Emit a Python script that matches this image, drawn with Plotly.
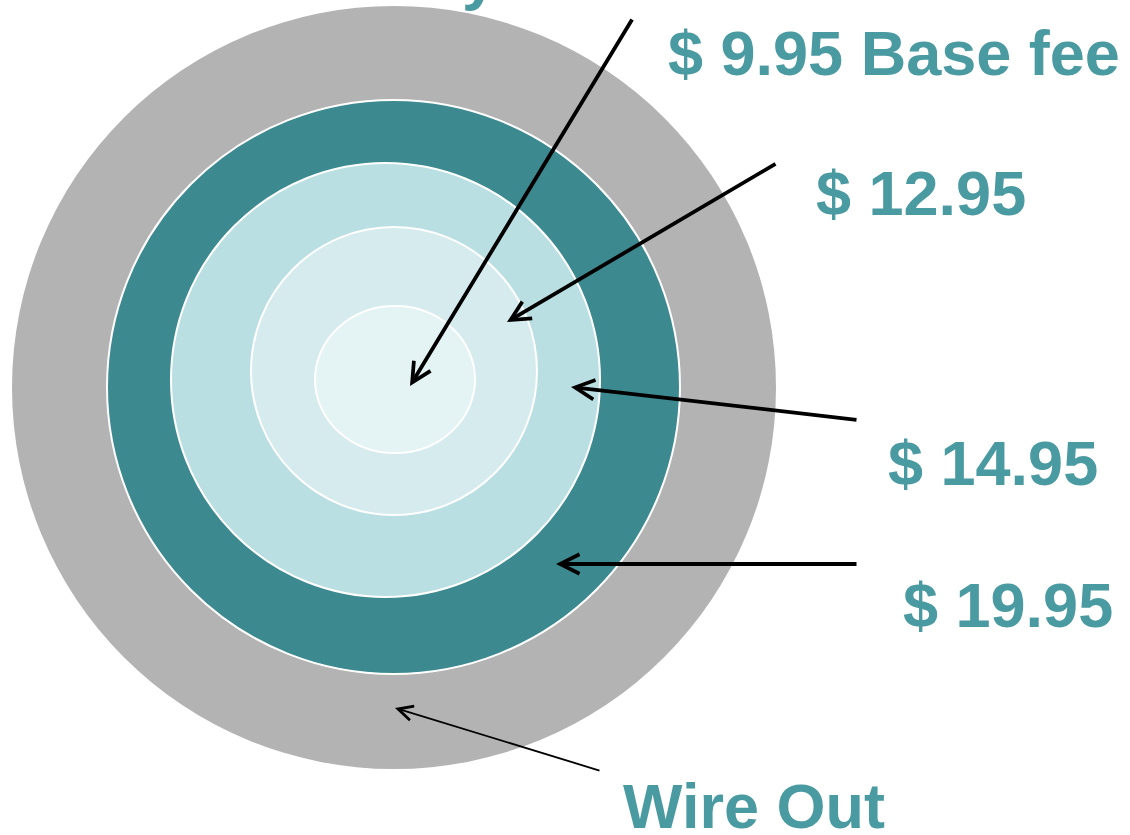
import plotly.graph_objects as go

# Ring data (outer -> inner): bounds in chart pixel units
ring_names = ["Wire Out", "$ 19.95", "$ 14.95", "$ 12.95", "$ 9.95 Base fee"]
ring_x0 = [12, 107, 171, 251, 315]
ring_x1 = [776, 680, 600, 537, 475]
ring_y0 = [6, 100, 163, 227, 306]
ring_y1 = [769, 674, 597, 515, 453]
ring_colors = ["#B3B3B3", "#3C8A90", "#BADFE2", "#D6EBEE", "#E4F3F4"]
ring_border = [0, 2, 2, 2, 2]

# Label texts and positions
label_texts = ["$ 9.95 Base fee", "$ 12.95", "$ 14.95", "$ 19.95", "Wire Out"]
label_x = [666, 814, 886, 901, 621]
label_y = [53, 193, 463, 605, 806]

# Arrows: tail -> head
arrow_tail_x = [633, 777, 858, 858, 601]
arrow_tail_y = [18, 163, 420, 564, 771]
arrow_head_x = [410, 507, 571, 556, 395]
arrow_head_y = [386, 322, 387, 564, 708]
arrow_width = [3.8, 3.8, 3.8, 3.8, 1.8]
arrow_size = [1.0, 1.0, 1.0, 1.0, 1.6]

TEXT_COLOR = "#4A9AA1"
FONT = "Liberation Sans, Arial, sans-serif"
FONT_SIZE = 63

fig = go.Figure()

for i in range(len(ring_names)):
    fig.add_shape(
        type="circle", xref="x", yref="y",
        x0=ring_x0[i], x1=ring_x1[i], y0=ring_y0[i], y1=ring_y1[i],
        fillcolor=ring_colors[i],
        line=dict(color="white", width=ring_border[i]) if ring_border[i] else dict(width=0),
        layer="below",
    )

annotations = []
for i in range(len(arrow_tail_x)):
    annotations.append(dict(
        x=arrow_head_x[i], y=arrow_head_y[i], xref="x", yref="y",
        ax=arrow_tail_x[i], ay=arrow_tail_y[i], axref="x", ayref="y",
        text="", showarrow=True, arrowhead=5, arrowsize=arrow_size[i],
        arrowwidth=arrow_width[i], arrowcolor="black", standoff=0,
    ))

for t, x, y in zip(label_texts, label_x, label_y):
    annotations.append(dict(
        x=x, y=y, xref="x", yref="y", text=t, showarrow=False,
        xanchor="left", yanchor="middle",
        font=dict(family=FONT, size=FONT_SIZE, color=TEXT_COLOR, weight="bold"),
    ))

# Partially visible title glyph at top edge (cut off by the page edge)
annotations.append(dict(
    x=499 / 1130, y=1, xref="paper", yref="paper", text="y", showarrow=False,
    xanchor="right", yanchor="middle", yshift=24,
    font=dict(family=FONT, size=FONT_SIZE, color=TEXT_COLOR, weight="bold"),
))

fig.update_layout(
    width=1130, height=835,
    margin=dict(l=0, r=0, t=0, b=0),
    paper_bgcolor="white", plot_bgcolor="white",
    xaxis=dict(range=[0, 1130], visible=False, fixedrange=True),
    yaxis=dict(range=[835, 0], visible=False, fixedrange=True),
    showlegend=False,
    annotations=annotations,
)

fig.write_html("out.html")
